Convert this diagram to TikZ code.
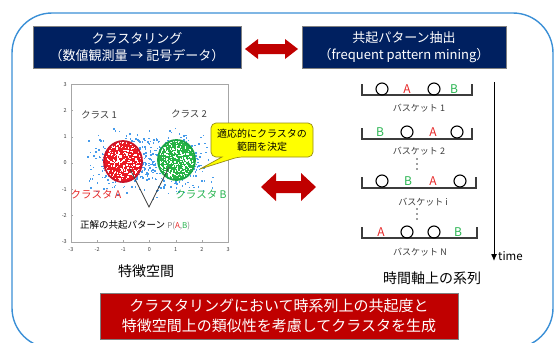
\documentclass[tikz,border=0pt]{standalone}
\usepackage{fontspec}
\setmainfont{Noto Sans CJK JP}
\usetikzlibrary{arrows.meta}
\definecolor{navy}{RGB}{0,32,96}
\definecolor{arrowred}{RGB}{192,0,0}
\definecolor{frameblue}{RGB}{58,143,214}
\definecolor{dotblue}{RGB}{70,155,235}
\definecolor{clred}{RGB}{235,25,35}
\definecolor{clredb}{RGB}{200,20,40}
\definecolor{clgreen}{RGB}{40,180,70}
\definecolor{clgreenb}{RGB}{25,165,70}
\definecolor{txtred}{RGB}{230,40,40}
\definecolor{txtgreen}{RGB}{40,180,80}
\definecolor{dgray}{RGB}{60,60,60}
\definecolor{callyel}{RGB}{255,255,0}
\definecolor{callbd}{RGB}{150,140,20}
\newcommand\dblarr[6]{%
\fill[arrowred] (#1-#3,#2) -- (#1-#3+#4,#2-#5) -- (#1-#3+#4,#2-#6) -- (#1+#3-#4,#2-#6) -- (#1+#3-#4,#2-#5) -- (#1+#3,#2) -- (#1+#3-#4,#2+#5) -- (#1+#3-#4,#2+#6) -- (#1-#3+#4,#2+#6) -- (#1-#3+#4,#2+#5) -- cycle;}
\tikzset{
 hdr/.style={fill=navy, draw=gray, line width=0.6, text=white, align=center, inner sep=0, font=\fontsize{13}{17}\selectfont},
 bigred/.style={fill=arrowred, draw=gray, line width=0.6, text=white, align=center, inner sep=0, font=\fontsize{15}{20}\selectfont},
 basket/.style={draw=dgray, line width=1.3},
 item/.style={draw=black, line width=1.1},
 letA/.style={text=txtred, font=\fontsize{12}{12}\selectfont, inner sep=0},
 letB/.style={text=txtgreen, font=\fontsize{12}{12}\selectfont, inner sep=0},
 blabel/.style={text=dgray, font=\fontsize{9}{9}\selectfont, inner sep=0},
 ticklab/.style={text=dgray, font=\fontsize{5.5}{6}\selectfont, inner sep=0},
 captxt/.style={font=\fontsize{14}{14}\selectfont, inner sep=0},
}
\begin{document}
\begin{tikzpicture}[x=1pt,y=-1pt]
\useasboundingbox (0,0) rectangle (555,343);
% outer frame
\draw[frameblue, line width=1.4, rounded corners=40] (12,13) rectangle (553,348);
% headers
\node[hdr, minimum width=208, minimum height=42] (hdrL) at (137,47) {クラスタリング\\（数値観測量 → 記号データ）};
\node[hdr, minimum width=204, minimum height=42] (hdrR) at (404,47) {共起パターン抽出\\（frequent pattern mining）};
\dblarr{271.5}{49}{26.5}{13}{10}{5}
\dblarr{288.5}{187}{27.5}{15}{14}{6}
% plot frame
\draw[gray!70, line width=0.5] (71,84) rectangle (228,242);
\foreach \v [count=\k from 0] in {3,2,1,0,-1,-2,-3}{
  \node[ticklab, anchor=east] (yl\k) at (67,{163-26.3*\v}) {\v};
  \draw[gray!70, line width=0.4] (71,{163-26.3*\v}) -- ++(2,0);
  \node[ticklab, anchor=north] (xl\k) at ({149.5-26.2*\v},247) {\number\numexpr-\v\relax};
  \draw[gray!70, line width=0.4] ({149.5-26.2*\v},242) -- ++(0,-2);
}
% scatter
\pgfmathsetseed{7}
\foreach \c in {-1,1}{
 \foreach \i in {1,...,320}{
  \pgfmathsetmacro\xx{\c+0.62*(rand+rand+rand)}
  \pgfmathsetmacro\yy{0.52*(rand+rand+rand)}
  \fill[dotblue] ({149.5+26.2*\xx-0.75},{163-26.3*\yy-0.75}) rectangle ++(1.5,1.5);
 }
}
% clusters
\begin{scope}
 \clip (123,161.5) ellipse [x radius=19, y radius=20.5];
 \fill[clred] (100,138) rectangle (146,185);
 \foreach \i in {1,...,320}{
  \fill[white] ({123+19*rand-0.6},{161.5+20.5*rand-0.6}) rectangle ++(1.3,1.3);
 }
\end{scope}
\draw[clredb, line width=1.8] (123,161.5) ellipse [x radius=19, y radius=20.5];
\begin{scope}
 \clip (176.5,160) ellipse [x radius=18.5, y radius=20];
 \fill[clgreen] (155,137) rectangle (198,183);
 \foreach \i in {1,...,320}{
  \fill[white] ({176.5+18.5*rand-0.6},{160+20*rand-0.6}) rectangle ++(1.3,1.3);
 }
\end{scope}
\draw[clgreenb, line width=1.8] (176.5,160) ellipse [x radius=18.5, y radius=20];
% labels in plot
\node[text=dgray, font=\fontsize{9.5}{10}\selectfont, inner sep=0] (cls1) at (99,115) {クラス 1};
\node[text=dgray, font=\fontsize{9.5}{10}\selectfont, inner sep=0] (cls2) at (189,114) {クラス 2};
\node[text=txtred, font=\fontsize{10.5}{11}\selectfont, inner sep=0] (clA) at (96,194) {クラスタ A};
\node[text=txtgreen, font=\fontsize{10.5}{11}\selectfont, inner sep=0] (clB) at (201,194) {クラスタ B};
\coordinate (vA) at (130,169);
\coordinate (vV) at (149,207);
\coordinate (vB) at (169,167);
\draw[dgray, line width=0.8] (vA) -- (vV) -- (vB);
\node[font=\fontsize{9.5}{10}\selectfont, inner sep=0, anchor=west] (pat) at (80,225) {正解の共起パターン {\fontsize{8}{8}\selectfont\color{gray}P(\textcolor{txtred}{A},\textcolor{txtgreen}{B})}};
\node[captxt] (feat) at (146,271) {特徴空間};
% callout
\coordinate (ctip) at (200,169);
\filldraw[fill=callyel, draw=callbd, line width=0.7, rounded corners=5] (222,157) -- (211,157) -- (211,123) -- (313,123) -- (313,157) -- (238,157) [sharp corners] -- (ctip) -- cycle;
\node[align=center, font=\fontsize{10}{13}\selectfont, inner sep=0] (calltxt) at (262,140) {適応的にクラスタの\\範囲を決定};
% baskets
\newcommand\bask[2]{\draw[basket] (362,{#1-11}) -- (362,#1) -- (#2,#1) -- (#2,{#1-11});}
\bask{95}{472}
\bask{139}{472}
\bask{188}{476}
\bask{238}{477}
% basket 1
\draw[item] (382,89) circle (6);
\node[letA] (a1) at (407,89) {A};
\draw[item] (434,89) circle (6);
\node[letB] (b1) at (454,89) {B};
\node[blabel] (l1) at (419,108) {バスケット 1};
% basket 2
\node[letB] (b2) at (380,132) {B};
\draw[item] (407,132) circle (6);
\node[letA] (a2) at (433,132) {A};
\draw[item] (457,132) circle (6);
\node[blabel] (l2) at (419,151) {バスケット 2};
\foreach \yy in {159,164,169}{\fill[dgray] (417,\yy) circle (0.8);}
% basket i
\draw[item] (382,181) circle (6);
\node[letB] (b3) at (408,181) {B};
\node[letA] (a3) at (433,181) {A};
\draw[item] (460,181) circle (6);
\node[blabel] (l3) at (423,202) {バスケット i};
\foreach \yy in {209,214,219}{\fill[dgray] (417,\yy) circle (0.8);}
% basket N
\node[letA] (a4) at (381,232) {A};
\draw[item] (407,232) circle (6);
\draw[item] (434,232) circle (6);
\node[letB] (b4) at (458,232) {B};
\node[blabel] (l4) at (420,252) {バスケット N};
% time axis
\coordinate (t0) at (494,82);
\coordinate (t1) at (494,261);
\draw[line width=1, -{Latex[length=7,width=6]}] (t0) -- (t1);
\node[font=\fontsize{11.5}{11}\selectfont, inner sep=0, anchor=west] (time) at (498,256) {time};
\node[captxt] (series) at (432,278) {時間軸上の系列};
% bottom box
\node[bigred, minimum width=358, minimum height=46] (concl) at (279,316) {クラスタリングにおいて時系列上の共起度と\\特徴空間上の類似性を考慮してクラスタを生成};
\end{tikzpicture}
\end{document}
